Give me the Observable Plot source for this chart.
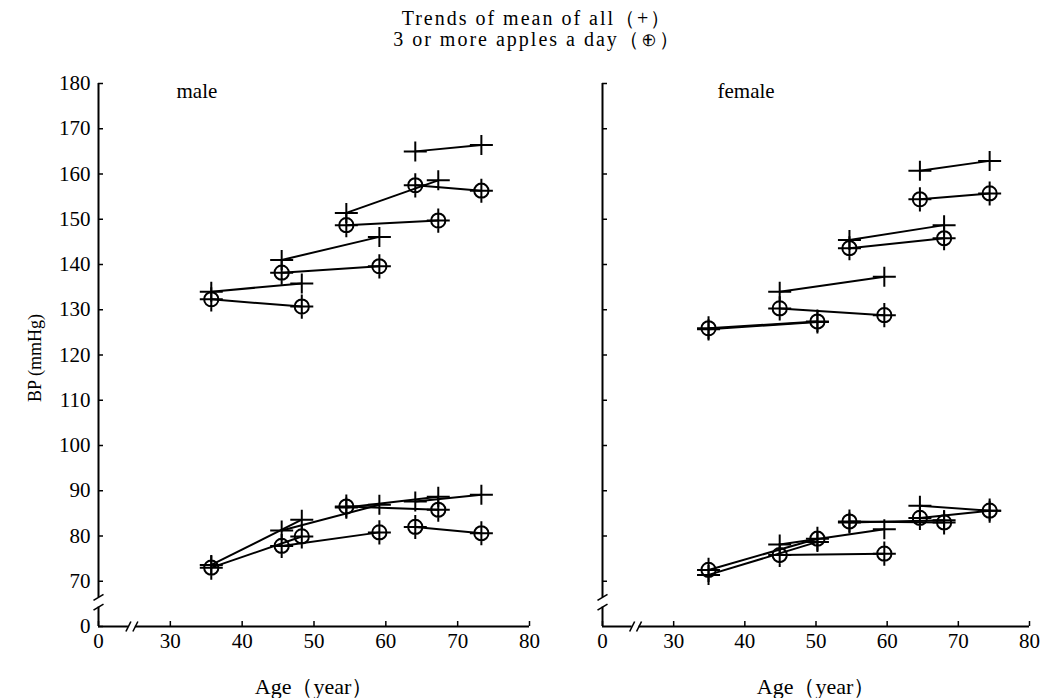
<!DOCTYPE html>
<html>
<head>
<meta charset="utf-8">
<script src="https://cdn.jsdelivr.net/npm/d3@7"></script>
<script src="https://cdn.jsdelivr.net/npm/@observablehq/plot@0.6"></script>
<style>
  body { margin: 0; background: #fff; }
  #wrap { position: relative; width: 1041px; height: 698px; font-family: "Liberation Serif", "Times New Roman", serif; color: #000; }
  .title { position: absolute; left: 287px; width: 500px; text-align: center; font-size: 20px; line-height: 20px; height: 20px; letter-spacing: 2px; white-space: nowrap; }
  #t1 { top: 8px; }
  #t2 { top: 29px; }
  #male { position: absolute; left: 0; top: 0; }
  #female { position: absolute; left: 560px; top: 0; }
</style>
</head>
<body>
<div id="wrap">
  <div class="title" id="t1">Trends of mean of all（+）</div>
  <div class="title" id="t2">3 or more apples a day（⊕）</div>
  <div id="male"></div>
  <div id="female"></div>
</div>
<script>
// ---- tick values ----
const xTicks = [0, 30, 40, 50, 60, 70, 80];
const yTicks = [0, 70, 80, 90, 100, 110, 120, 130, 140, 150, 160, 170, 180];

// ---- male cohorts (baseline age -> follow-up age) ----
const maleAgeStart = [35.7, 45.5, 54.5, 64.1];
const maleAgeEnd   = [48.3, 59.1, 67.3, 73.3];
const maleSysAllStart   = [134.0, 141.0, 151.4, 165.0];
const maleSysAllEnd     = [135.8, 146.1, 158.6, 166.4];
const maleSysAppleStart = [132.3, 138.2, 148.7, 157.5];
const maleSysAppleEnd   = [130.7, 139.6, 149.7, 156.3];
const maleDiaAllStart   = [73.6, 81.2, 86.3, 87.6];
const maleDiaAllEnd     = [83.6, 86.9, 88.7, 89.1];
const maleDiaAppleStart = [73.0, 77.8, 86.5, 82.0];
const maleDiaAppleEnd   = [79.9, 80.8, 85.8, 80.6];

// ---- female cohorts ----
const femaleAgeStart = [34.9, 44.9, 54.7, 64.6];
const femaleAgeEnd   = [50.2, 59.6, 68.0, 74.4];
const femaleSysAllStart   = [125.7, 134.0, 145.4, 160.7];
const femaleSysAllEnd     = [127.3, 137.3, 148.7, 162.9];
const femaleSysAppleStart = [125.9, 130.3, 143.6, 154.4];
const femaleSysAppleEnd   = [127.4, 128.8, 145.8, 155.7];
const femaleDiaAllStart   = [71.4, 78.1, 83.0, 86.7];
const femaleDiaAllEnd     = [78.7, 81.5, 83.5, 85.6];
const femaleDiaAppleStart = [72.5, 75.8, 83.2, 84.0];
const femaleDiaAppleEnd   = [79.4, 76.1, 83.0, 85.6];

// axis pieces (broken axes)
const yAxisPieces = [[180, 45], [30, 0]];
const yBreaks = [45, 30];
const xAxisPieces = [[0, 12.5], [15.4, 80]];
const xBreaks = [12.5, 15.4];

// broken-scale transforms: 0..30 years squeezed into 10 units, 0..70 mmHg into 10 units
const xT = d => d < 30 ? 20 + d / 3 : d;
const yT = d => d < 70 ? 60 + d / 7 : d;

// custom marker shapes
const plusSym = { draw(ctx, size) { const r = Math.sqrt(size / Math.PI);
  ctx.moveTo(-r * 1.15, 0); ctx.lineTo(r * 1.15, 0); ctx.moveTo(0, -r); ctx.lineTo(0, r); } };
const circlePlusSym = { draw(ctx, size) { const r = Math.sqrt(size / Math.PI); const c = r * 0.62;
  ctx.moveTo(c, 0); ctx.arc(0, 0, c, 0, 2 * Math.PI);
  ctx.moveTo(-r, 0); ctx.lineTo(r, 0); ctx.moveTo(0, -r * 1.05); ctx.lineTo(0, r * 1.05); } };
const slashX = { draw(ctx) { ctx.moveTo(-2.5, 5); ctx.lineTo(2.5, -5); } };
const slashY = { draw(ctx) { ctx.moveTo(-5, 3); ctx.lineTo(5, -3); } };

const FONT = '"Liberation Serif", "Times New Roman", serif';

function panel(name, ageS, ageE, series, o) {
  const segs = [];
  series.forEach(([group, s, e]) => ageS.forEach((a, i) =>
    segs.push({ group, a0: a, a1: ageE[i], v0: s[i], v1: e[i] })));
  const pts = segs.flatMap(r => [
    { group: r.group, age: r.a0, v: r.v0 },
    { group: r.group, age: r.a1, v: r.v1 }
  ]);
  return Plot.plot({
    width: o.width, height: 698,
    marginTop: 83, marginBottom: 72, marginLeft: o.ml, marginRight: o.mr,
    style: { fontFamily: FONT, fontSize: "21px", color: "#000", background: "transparent", overflow: "visible" },
    x: { domain: [20, 80], transform: xT },
    y: { domain: [60, 180], transform: yT },
    marks: [
      Plot.ruleX(yAxisPieces, { x: () => 0, y1: d => d[0], y2: d => d[1], strokeWidth: 2 }),
      Plot.ruleY(xAxisPieces, { y: () => 0, x1: d => d[0], x2: d => d[1], strokeWidth: 2 }),
      Plot.dot(yBreaks, { x: () => 0, y: d => d, symbol: slashY, r: 5, stroke: "#000", fill: "none", strokeWidth: 1.6 }),
      Plot.dot(xBreaks, { x: d => d, y: () => 0, symbol: slashX, r: 5, stroke: "#000", fill: "none", strokeWidth: 1.6 }),
      Plot.axisX(xTicks, { tickSize: -5, tickPadding: 12, strokeWidth: 1.5, label: null, fontSize: 21 }),
      Plot.axisY(yTicks.filter(d => o.yLabels || d > 0), { tickSize: -5, tickPadding: 13, strokeWidth: 1.5, label: null, fontSize: 21,
        tickFormat: o.yLabels ? (d => String(d)) : (() => "") }),
      Plot.link(segs, { x1: "a0", y1: "v0", x2: "a1", y2: "v1", stroke: "#000", strokeWidth: 2 }),
      Plot.dot(pts.filter(d => d.group === "all"), { x: "age", y: "v", symbol: plusSym, r: 10, stroke: "#000", fill: "none", strokeWidth: 2 }),
      Plot.dot(pts.filter(d => d.group === "apple"), { x: "age", y: "v", symbol: circlePlusSym, r: 11.5, stroke: "#000", fill: "none", strokeWidth: 2 }),
      Plot.text([name], { text: d => d, frameAnchor: "top-left", dx: o.nameDx, dy: 8, textAnchor: "start", lineAnchor: "middle", fontSize: 21 }),
      Plot.text(["Age（year）"], { text: d => d, frameAnchor: "bottom", dy: 60, textAnchor: "middle", lineAnchor: "middle", fontSize: 22, letterSpacing: 1 }),
      o.yLabels ? Plot.text(["BP (mmHg)"], { text: d => d, frameAnchor: "left", dx: -63, dy: 3, rotate: -90, textAnchor: "middle", lineAnchor: "middle", fontSize: 18 }) : null
    ]
  });
}

document.getElementById("male").append(panel("male", maleAgeStart, maleAgeEnd, [
  ["all", maleSysAllStart, maleSysAllEnd],
  ["apple", maleSysAppleStart, maleSysAppleEnd],
  ["all", maleDiaAllStart, maleDiaAllEnd],
  ["apple", maleDiaAppleStart, maleDiaAppleEnd]
], { width: 560, ml: 98, mr: 31, yLabels: true, nameDx: 78 }));

document.getElementById("female").append(panel("female", femaleAgeStart, femaleAgeEnd, [
  ["all", femaleSysAllStart, femaleSysAllEnd],
  ["apple", femaleSysAppleStart, femaleSysAppleEnd],
  ["all", femaleDiaAllStart, femaleDiaAllEnd],
  ["apple", femaleDiaAppleStart, femaleDiaAppleEnd]
], { width: 481, ml: 42, mr: 12, yLabels: false, nameDx: 115 }));
</script>
</body>
</html>
